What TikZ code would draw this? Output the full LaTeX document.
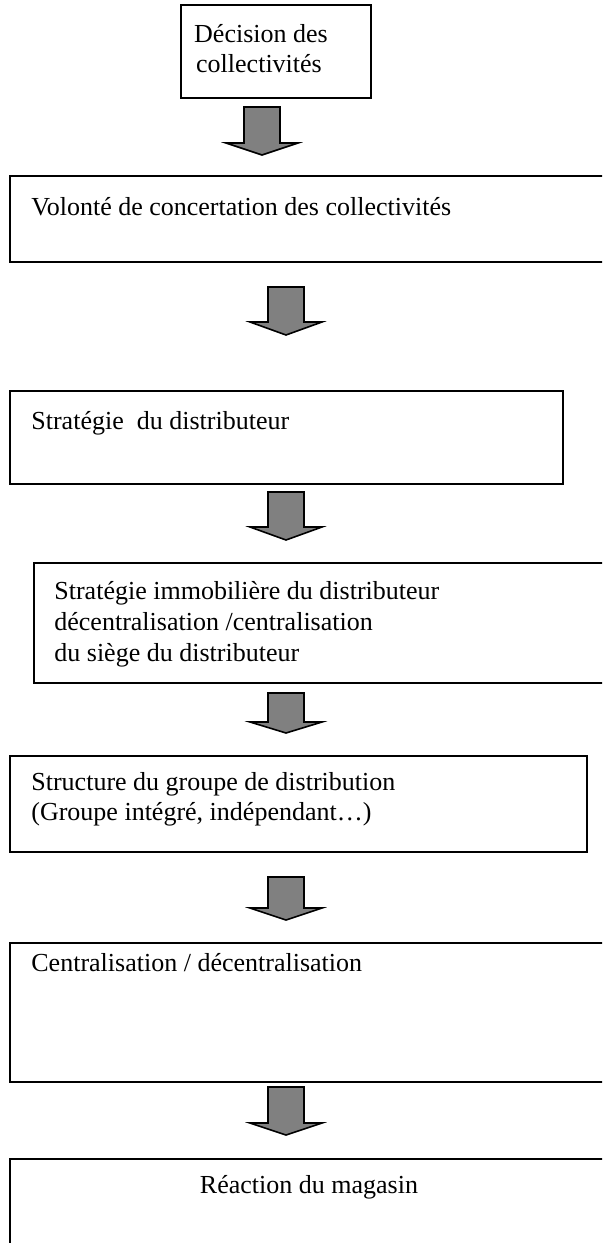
\documentclass[tikz,border=0pt]{standalone}
\usepackage{fontspec}
\setmainfont{Liberation Serif}
\usetikzlibrary{fit,calc}
\definecolor{arrowgray}{HTML}{808080}
\begin{document}
\begin{tikzpicture}[x=0.5pt,y=-0.5pt,
  box/.style={draw=black, line width=1.1pt, rectangle, inner sep=0pt},
  lbl/.style={anchor=base west, inner sep=0pt, font=\fontsize{13}{15}\selectfont},
  clbl/.style={anchor=base, inner sep=0pt, font=\fontsize{13}{15}\selectfont},
  barrow/.style={draw=black, line width=0.8pt, fill=arrowgray, line join=miter}]
\useasboundingbox (0,0) rectangle (602,1243);
\clip (0,0) rectangle (602,1243);
% boxes
\node[box, fit={(181,5) (371,98)}] (b1) {};
\node[box, fit={(10,176) (612,262)}] (b2) {};
\node[box, fit={(10,391) (563,484)}] (b3) {};
\node[box, fit={(34,563) (612,683)}] (b4) {};
\node[box, fit={(10,756) (587,852)}] (b5) {};
\node[box, fit={(10,943) (612,1082)}] (b6) {};
\node[box, fit={(10,1159) (612,1260)}] (b7) {};
% texts
\node[clbl] (t1a) at (261,42) {Décision des};
\node[clbl] (t1b) at (259,72) {collectivités};
\node[lbl] (t2) at (31,215) {Volonté de concertation des collectivités};
\node[lbl] (t3) at (31,429) {Stratégie\ \ du distributeur};
\node[lbl] (t4a) at (54,599) {Stratégie immobilière du distributeur};
\node[lbl] (t4b) at (54,630) {décentralisation /centralisation};
\node[lbl] (t4c) at (54,661) {du siège du distributeur};
\node[lbl] (t5a) at (31,790) {Structure du groupe de distribution};
\node[lbl] (t5b) at (31,820) {(Groupe intégré, indépendant…)};
\node[lbl] (t6) at (31,971) {Centralisation / décentralisation};
\node[clbl] (t7) at (309,1193) {Réaction du magasin};
% block arrows: top-centre coordinates
\coordinate (a1) at (262,107);
\coordinate (a2) at (286,287);
\coordinate (a3) at (286,492);
\coordinate (a4) at (286,693);
\coordinate (a5) at (286,877);
\coordinate (a6) at (286,1087);
\foreach \a/\h/\t in {a1/36/48, a2/35/48, a3/35/48, a4/29/40, a5/31/43, a6/36/48}{
  \draw[barrow] ($(\a)+(-18,0)$) -- ($(\a)+(18,0)$) -- ($(\a)+(18,\h)$) -- ($(\a)+(36,\h)$)
     -- ($(\a)+(0,\t)$) -- ($(\a)+(-36,\h)$) -- ($(\a)+(-18,\h)$) -- cycle;
}
\end{tikzpicture}
\end{document}
